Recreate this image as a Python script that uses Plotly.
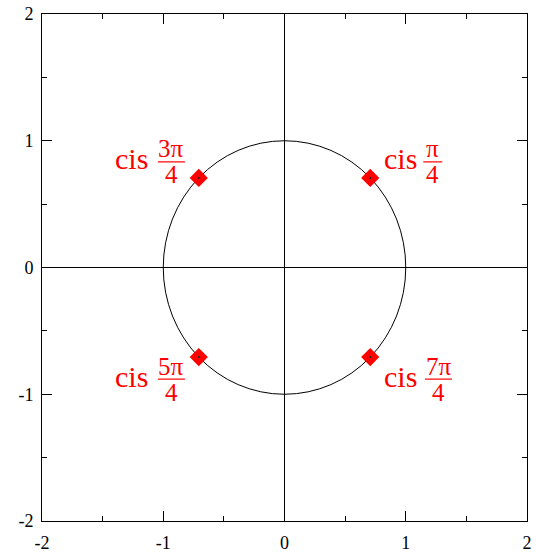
import plotly.graph_objects as go

# ---- data ----
point_names = ["π/4", "3π/4", "5π/4", "7π/4"]
xs = [0.7071, -0.7071, -0.7071, 0.7071]
ys = [0.7071, 0.7071, -0.7071, -0.7071]
numerators = ["π", "3π", "5π", "7π"]
denominators = ["4", "4", "4", "4"]
tick_vals = [-2, -1, 0, 1, 2]
tick_text = ["-2", "-1", "0", "1", "2"]
circle_radius = 1.0
axis_range = [-2, 2]

# ---- label styling (pixel offsets relative to each point) ----
cis_anchor = ["left", "right", "right", "left"]
cis_dx = [13.5, -50.5, -50.5, 13.5]
bar_dy = [16, 16, -22, -22]
frac_dx = [62.5, -27.3, -27.3, 68.3]
bar_half = [9.5, 13.5, 13.5, 13.5]

RED = "#ff0000"
SERIF = "'Liberation Serif', 'Times New Roman', 'DejaVu Serif', serif"

fig = go.Figure()

fig.add_trace(go.Scatter(
    x=xs, y=ys, mode="markers",
    marker=dict(symbol="diamond", size=14, color=RED, line=dict(width=0)),
    hoverinfo="skip", showlegend=False))
fig.add_trace(go.Scatter(
    x=xs, y=ys, mode="markers",
    marker=dict(symbol="circle", size=2, color="#222", line=dict(width=0)),
    hoverinfo="skip", showlegend=False))

# unit circle
fig.add_shape(type="circle", xref="x", yref="y",
              x0=-circle_radius, y0=-circle_radius, x1=circle_radius, y1=circle_radius,
              line=dict(color="black", width=1), layer="below")

annotations = []
for i in range(len(xs)):
    annotations.append(dict(
        x=xs[i], y=ys[i], xref="x", yref="y", text="cis", showarrow=False,
        xanchor=cis_anchor[i], yanchor="middle",
        xshift=cis_dx[i], yshift=bar_dy[i] + 3,
        font=dict(family=SERIF, size=30, color=RED), borderpad=0, borderwidth=0))
    annotations.append(dict(
        x=xs[i], y=ys[i], xref="x", yref="y", text=numerators[i], showarrow=False,
        xanchor="center", yanchor="middle",
        xshift=frac_dx[i], yshift=bar_dy[i] + 13,
        font=dict(family=SERIF, size=25, color=RED), borderpad=0, borderwidth=0))
    annotations.append(dict(
        x=xs[i], y=ys[i], xref="x", yref="y", text=denominators[i], showarrow=False,
        xanchor="center", yanchor="middle",
        xshift=frac_dx[i], yshift=bar_dy[i] - 13,
        font=dict(family=SERIF, size=25, color=RED), borderpad=0, borderwidth=0))
    fig.add_shape(type="line", xref="x", yref="y",
                  xsizemode="pixel", ysizemode="pixel",
                  xanchor=xs[i], yanchor=ys[i],
                  x0=frac_dx[i] - bar_half[i], x1=frac_dx[i] + bar_half[i],
                  y0=bar_dy[i], y1=bar_dy[i],
                  line=dict(color=RED, width=1.2))

axis_common = dict(
    range=axis_range, tickvals=tick_vals, ticktext=tick_text,
    ticks="inside", ticklen=10, tickwidth=1, tickcolor="black",
    showline=True, linecolor="black", linewidth=1, mirror="allticks",
    showgrid=False, zeroline=True, zerolinecolor="black", zerolinewidth=1,
    minor=dict(dtick=0.5, ticks="inside", ticklen=5, tickwidth=1, tickcolor="black", showgrid=False),
    tickfont=dict(family=SERIF, size=18, color="black"),
    fixedrange=True, automargin=False,
)

fig.update_layout(
    width=536, height=552,
    margin=dict(l=42, r=9, t=14, b=31),
    paper_bgcolor="white", plot_bgcolor="white",
    xaxis=dict(**axis_common, ticklabelstandoff=5),
    yaxis=dict(**axis_common, ticklabelstandoff=4),
    annotations=annotations,
    showlegend=False,
)

fig.write_html("out.html", config={"displayModeBar": False},
               post_script="document.body.style.margin='0';document.body.style.padding='0';")
